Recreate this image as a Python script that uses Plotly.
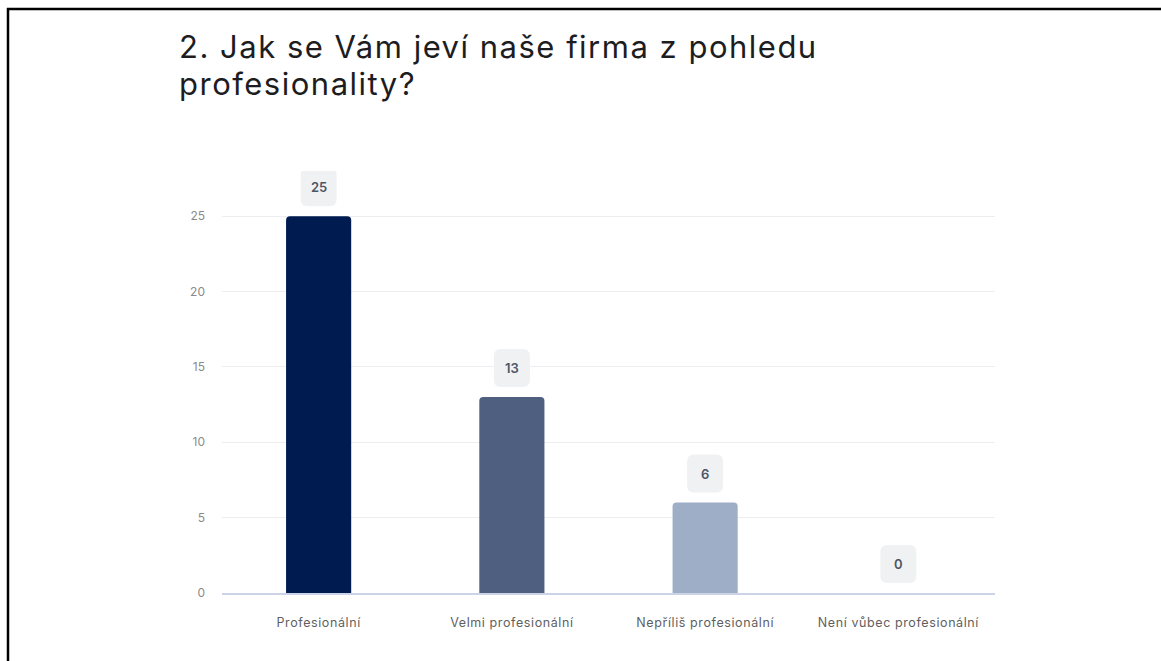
import plotly.graph_objects as go

categories = ["Profesionální", "Velmi profesionální", "Nepříliš profesionální", "Není vůbec profesionální"]
values = [25, 13, 6, 0]
colors = ["#001B4F", "#4F5F80", "#9FAEC7", "#C9D3E3"]
y_ticks = [0, 5, 10, 15, 20, 25]
title_lines = ["2. Jak se Vám jeví naše firma z pohledu", "profesionality?"]

W, H = 1161, 661
L, R, T, B = 222, 166, 171, 68
PW, PH = W - L - R, H - T - B
YMAX = 28

fig = go.Figure()
fig.add_trace(go.Bar(
    x=categories, y=values, marker=dict(color=colors, line=dict(width=0)),
    hoverinfo="x+y", showlegend=False,
))

# rounded label boxes above bars
bw, bh, r = 18, 19, 7
path = (f"M {-bw+r},{-bh} L {bw-r},{-bh} Q {bw},{-bh} {bw},{-bh+r} "
        f"L {bw},{bh-r} Q {bw},{bh} {bw-r},{bh} L {-bw+r},{bh} "
        f"Q {-bw},{bh} {-bw},{bh-r} L {-bw},{-bh+r} Q {-bw},{-bh} {-bw+r},{-bh} Z")
px_per_unit = PH / YMAX
for c, v in zip(categories, values):
    yc = v + 29 / px_per_unit
    fig.add_shape(type="path", xref="x", yref="y", xsizemode="pixel", ysizemode="pixel",
                  xanchor=c, yanchor=yc, path=path, fillcolor="#F0F1F2",
                  line=dict(width=0), layer="above")
    fig.add_annotation(x=c, y=yc, text=str(v), showarrow=False,
                       font=dict(family="Inter", size=13, color="#4E5666", weight=600),
                       xanchor="center", yanchor="middle")

def px_x(p):
    return (p - L) / PW
def px_y(p):
    return (H - B - p) / PH

# frame lines (top and left)
fig.add_shape(type="line", xref="paper", yref="paper", x0=px_x(7), x1=px_x(W + 5),
              y0=px_y(9), y1=px_y(9), line=dict(color="#000000", width=2.5))
fig.add_shape(type="line", xref="paper", yref="paper", x0=px_x(8), x1=px_x(8),
              y0=px_y(8), y1=px_y(H + 5), line=dict(color="#000000", width=2.5))

# title as two lines
for i, line in enumerate(title_lines):
    fig.add_annotation(x=px_x(177), y=px_y(46 + 38 * i), xref="paper", yref="paper",
                       text=f'<span style="letter-spacing:1.5px">{line}</span>',
                       showarrow=False, xanchor="left", yanchor="middle",
                       font=dict(family="Inter", size=31, color="#1D1D1F"))

ticktext = [f'<span style="letter-spacing:0.6px">{c}</span>' for c in categories]

fig.update_layout(
    width=W, height=H,
    margin=dict(l=L, r=R, t=T, b=B, autoexpand=False),
    paper_bgcolor="white", plot_bgcolor="white",
    bargap=0.663, barcornerradius=4,
    font=dict(family="Inter", color="#6B6B6B"),
    xaxis=dict(showgrid=False, showline=True, linecolor="#CDD3E6", linewidth=1.5,
               ticks="", tickvals=categories, ticktext=ticktext,
               tickfont=dict(size=12.5, color="#5F5F5F"),
               ticklabelstandoff=17, fixedrange=True),
    yaxis=dict(range=[0, YMAX], tickvals=y_ticks, showgrid=True, gridcolor="#EBEDF0",
               gridwidth=1, zeroline=False, showline=False, ticks="",
               tickfont=dict(size=12, color="#8A8A8A"), ticklabelstandoff=16,
               fixedrange=True),
)

fig.write_html("out.html")
